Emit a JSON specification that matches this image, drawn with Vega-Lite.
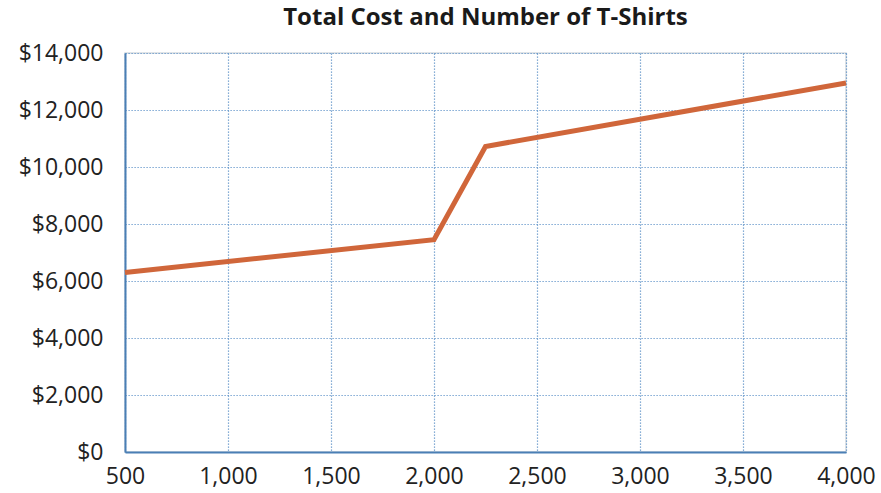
{
  "$schema": "https://vega.github.io/schema/vega-lite/v6.json",
  "autosize": {"type": "none"},
  "padding": {"left": 125, "top": 53, "right": 35, "bottom": 41},
  "width": 721,
  "height": 399,
  "title": {
    "text": "Total Cost and Number of T-Shirts",
    "font": "Open Sans",
    "fontSize": 24,
    "fontWeight": "bold",
    "color": "#1a1a1a",
    "anchor": "middle",
    "offset": 12
  },
  "config": {
    "view": {"stroke": "#d6dbe0", "strokeWidth": 1.5},
    "axis": {
      "labelFont": "Open Sans",
      "labelFontSize": 23,
      "labelColor": "#222222",
      "domainColor": "#4a7fb5",
      "domainWidth": 2,
      "ticks": false,
      "gridColor": "#4f87c2",
      "gridDash": [1.2, 1.8],
      "gridWidth": 1.2,
      "gridOpacity": 0.9,
      "title": null
    }
  },
  "data": {
    "values": [
      {"shirts": 500, "cost": 6300},
      {"shirts": 2000, "cost": 7450},
      {"shirts": 2250, "cost": 10720},
      {"shirts": 4000, "cost": 12950}
    ]
  },
  "mark": {"type": "line", "color": "#d0663a", "strokeWidth": 5, "strokeJoin": "miter"},
  "encoding": {
    "x": {
      "field": "shirts",
      "type": "quantitative",
      "scale": {"domain": [500, 4000], "nice": false, "zero": false},
      "axis": {"values": [500, 1000, 1500, 2000, 2500, 3000, 3500, 4000], "format": ",d", "labelPadding": 13, "labelFlush": false, "labelOverlap": false}
    },
    "y": {
      "field": "cost",
      "type": "quantitative",
      "scale": {"domain": [0, 14000], "nice": false},
      "axis": {"values": [0, 2000, 4000, 6000, 8000, 10000, 12000, 14000], "format": "$,d", "labelPadding": 22, "labelOverlap": false}
    }
  }
}
